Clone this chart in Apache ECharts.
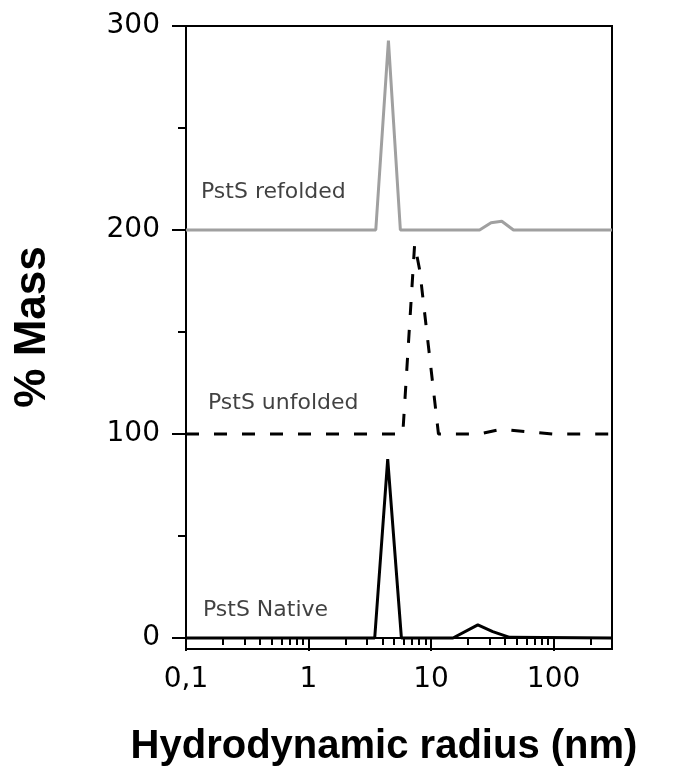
<!DOCTYPE html>
<html>
<head>
<meta charset="utf-8">
<script src="https://cdn.jsdelivr.net/npm/echarts@6/dist/echarts.min.js"></script>
<style>html,body{margin:0;padding:0;background:#fff}#c{width:673px;height:775px}</style>
</head>
<body>
<div id="c"></div>
<script>
// Hydrodynamic radius (nm) and % mass for each sample (raw values, before vertical offset)
var nativeX    = [0.1, 3.47, 4.43, 5.73, 15.1, 24.1, 31.9, 43.8, 300];
var nativeY    = [0,   0,    87.7, 0,    0,    6.4,  3.1,  0.3,  0];
var unfoldedX  = [0.1, 5.88, 7.35, 8.1,  11.5, 24.9, 37.4, 97.9, 300];
var unfoldedY  = [0,   0,    93.1, 80,   0,    0,    2.3,  0,    0];
var refoldedX  = [0.1, 3.54, 4.49, 5.62, 24.9, 30.9, 37.8, 47.1, 300];
var refoldedY  = [0,   0,    92.8, 0,    0,    3.6,  4.3,  0,    0];
var offsets    = [0, 100, 200];
var sampleNames = ['PstS Native', 'PstS unfolded', 'PstS refolded'];
var labelAnchorX = [0.1375, 0.151, 0.1325];
var labelAnchorY = [13.7, 115.2, 218.6];
var yMajorTicks = [0, 100, 200, 300];
var yMinorTicks = [50, 150, 250];
var xMajorTicks = [0.1, 1, 10, 100];
var xMinorTicks = [0.2,0.3,0.4,0.5,0.6,0.7,0.8,0.9,2,3,4,5,6,7,8,9,20,30,40,50,60,70,80,90,200,300];

function pairs(xs, ys, off) {
  return xs.map(function (x, i) { return [x, ys[i] + off]; });
}

var chart = echarts.init(document.getElementById('c'), null, {renderer: 'canvas'});
var lbl = {fontFamily: 'DejaVu Sans', fontSize: 28, color: '#000'};
var option = {
  animation: false,
  backgroundColor: '#fff',
  grid: {left: 186, right: 61, top: 26, bottom: 126, show: true, borderColor: '#000', borderWidth: 2, backgroundColor: 'transparent'},
  xAxis: [{
    type: 'log', logBase: 10, min: 0.1, max: 300,
    axisLine: {lineStyle: {color: '#000', width: 2}},
    axisTick: {show: true, length: 13, customValues: xMajorTicks, lineStyle: {color: '#000', width: 2}},
    axisLabel: Object.assign({margin: 17, customValues: xMajorTicks, formatter: function (v) { return String(v).replace('.', ','); }}, lbl),
    splitLine: {show: false}, minorTick: {show: false}
  }, {
    type: 'log', logBase: 10, min: 0.1, max: 300, position: 'bottom',
    axisLine: {show: false},
    axisTick: {show: true, length: 7, customValues: xMinorTicks, lineStyle: {color: '#000', width: 2}},
    axisLabel: {show: false},
    splitLine: {show: false}
  }],
  yAxis: [{
    type: 'value', min: -5.4, max: 300,
    axisLine: {show: true, lineStyle: {color: '#000', width: 2}},
    axisTick: {show: true, length: 14, customValues: yMajorTicks, lineStyle: {color: '#000', width: 2}},
    axisLabel: Object.assign({margin: 26, customValues: yMajorTicks}, lbl),
    splitLine: {show: false}
  }, {
    type: 'value', min: -5.4, max: 300, position: 'left',
    axisLine: {show: false},
    axisTick: {show: true, length: 8, customValues: yMinorTicks, lineStyle: {color: '#000', width: 2}},
    axisLabel: {show: false},
    splitLine: {show: false}
  }],
  graphic: [{
    type: 'text', x: 384, y: 747,
    style: {text: 'Hydrodynamic radius (nm)', font: 'bold 40px "Liberation Sans", Arial, sans-serif', fill: '#000', textAlign: 'center', textVerticalAlign: 'middle'}
  }, {
    type: 'text', x: 33, y: 327, rotation: Math.PI / 2,
    style: {text: '% Mass', font: 'bold 44px "Liberation Sans", Arial, sans-serif', fill: '#000', textAlign: 'center', textVerticalAlign: 'middle'}
  }],
  series: [{
    name: sampleNames[0], type: 'line', data: pairs(nativeX, nativeY, offsets[0]),
    showSymbol: false, symbol: 'none', smooth: false,
    lineStyle: {color: '#000', width: 3}
  }, {
    name: sampleNames[1], type: 'line', data: pairs(unfoldedX, unfoldedY, offsets[1]),
    showSymbol: false, symbol: 'none',
    lineStyle: {color: '#000', width: 3, type: [13, 15]}
  }, {
    name: sampleNames[2], type: 'line', data: pairs(refoldedX, refoldedY, offsets[2]),
    showSymbol: false, symbol: 'none',
    lineStyle: {color: '#a0a0a0', width: 3}
  }, {
    type: 'scatter', symbolSize: 0, silent: true,
    data: sampleNames.map(function (n, i) { return {name: n, value: [labelAnchorX[i], labelAnchorY[i]]}; }),
    label: {show: true, position: 'right', distance: 0, formatter: '{b}', fontFamily: 'DejaVu Sans', fontSize: 22, color: '#111'}
  }]
};
chart.setOption(option);
</script>
</body>
</html>
